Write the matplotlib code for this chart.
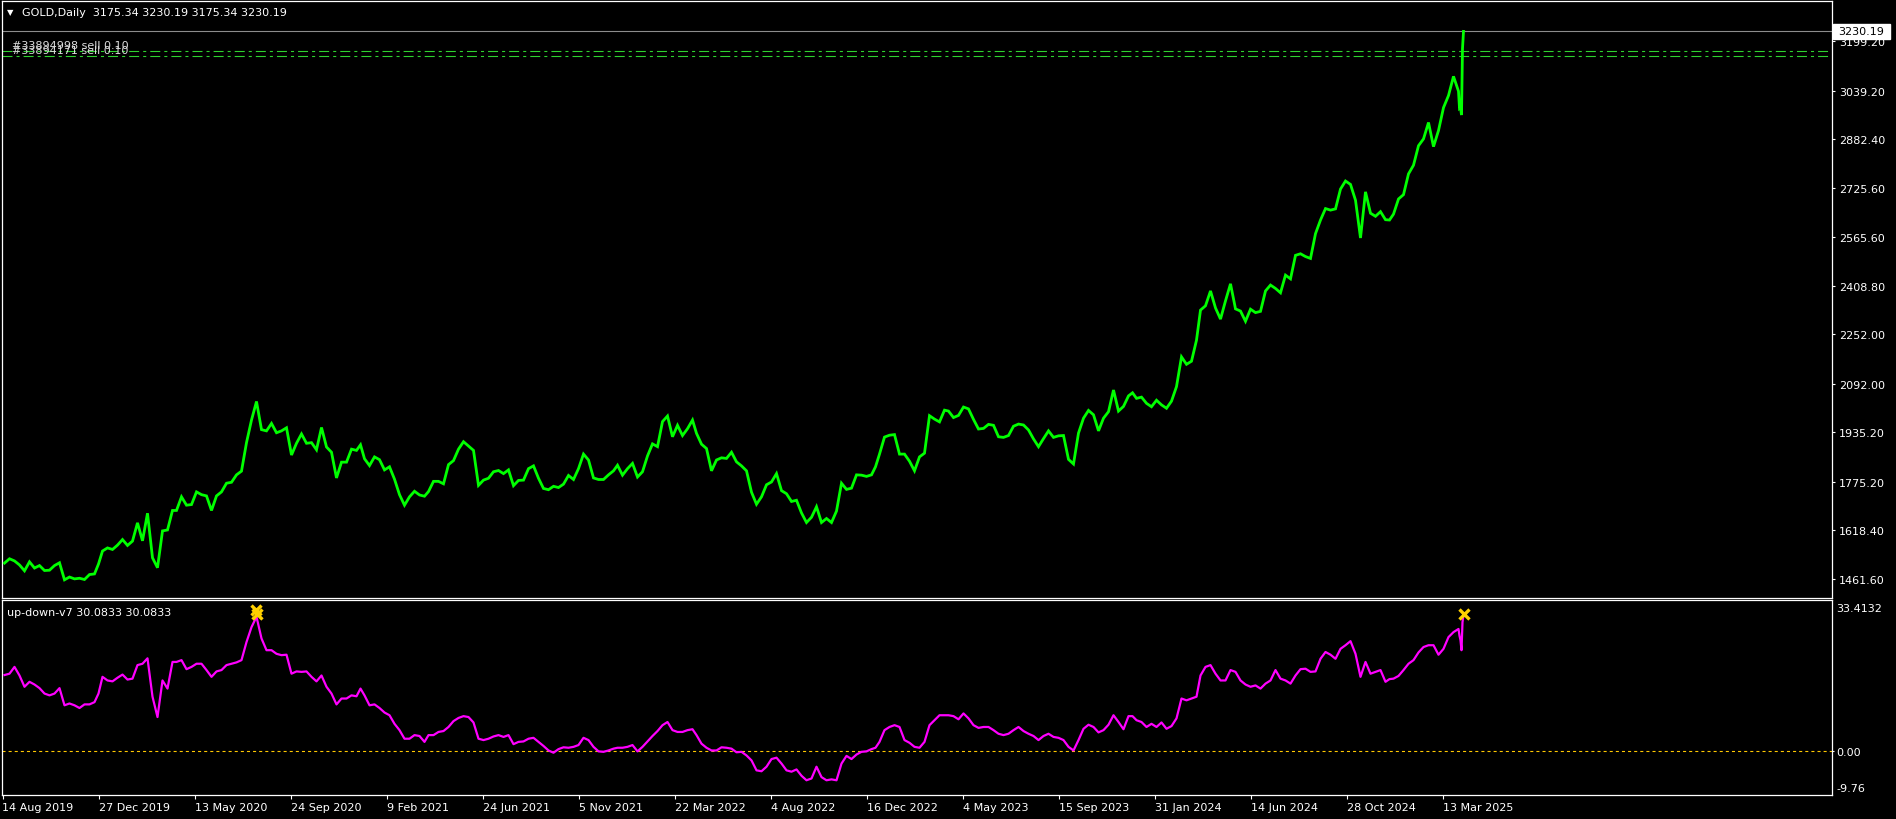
import numpy as np
import pandas as pd
import matplotlib
matplotlib.use("Agg")
import matplotlib.pyplot as plt
import matplotlib.transforms as mtransforms
from matplotlib.patches import Rectangle

plt.rcParams['font.family'] = ['DejaVu Sans']
plt.rcParams['lines.scale_dashes'] = False

# ---------------- data ----------------
START = '2019-08-14'
holidays = ['2019-12-25', '2020-01-01', '2020-04-10', '2020-12-25', '2021-01-01',
            '2021-04-02', '2021-12-24', '2022-04-15', '2022-12-26', '2023-01-02',
            '2023-04-07', '2023-12-25', '2024-01-01', '2024-03-29', '2024-12-25',
            '2025-01-01']

# weekly (Friday) closes 16 Aug 2019 .. 4 Apr 2025, then daily 7..11 Apr 2025
price_2019 = [1513, 1527, 1520, 1507, 1488, 1517, 1497, 1505, 1489, 1490, 1505, 1514, 1459, 1468,
              1462, 1464, 1460, 1476, 1478, 1510]
price_2020 = [1552, 1562, 1557, 1571, 1589, 1570, 1584, 1643, 1585, 1674, 1530, 1498, 1617, 1620,
              1683, 1683, 1727, 1700, 1702, 1743, 1734, 1730, 1683, 1730, 1743, 1771, 1774, 1798,
              1810, 1902, 1975, 2035, 1944, 1940, 1964, 1934, 1940, 1950, 1862, 1900, 1930, 1900,
              1902, 1879, 1951, 1888, 1871, 1788, 1839, 1839, 1881, 1877]
price_2021 = [1895, 1850, 1828, 1856, 1847, 1814, 1824, 1784, 1734, 1700, 1727, 1745, 1733, 1729,
              1744, 1777, 1777, 1769, 1831, 1844, 1881, 1905, 1891, 1877, 1764, 1781, 1787, 1808,
              1812, 1802, 1814, 1763, 1780, 1781, 1818, 1827, 1787, 1754, 1750, 1761, 1757, 1768,
              1796, 1783, 1818, 1865, 1846, 1788, 1783, 1783, 1798, 1811, 1829]
price_2022 = [1797, 1818, 1835, 1791, 1808, 1859, 1898, 1889, 1970, 1988, 1921, 1958, 1925, 1947,
              1975, 1932, 1897, 1883, 1811, 1846, 1853, 1851, 1871, 1840, 1827, 1811, 1742, 1703,
              1727, 1766, 1775, 1802, 1747, 1737, 1712, 1716, 1675, 1644, 1661, 1695, 1644, 1657,
              1644, 1681, 1771, 1751, 1755, 1798, 1797, 1793, 1798, 1824]
price_2023 = [1865, 1920, 1926, 1928, 1865, 1865, 1842, 1811, 1856, 1868, 1989, 1978, 1969, 2007,
              2004, 1983, 1990, 2017, 2011, 1977, 1946, 1948, 1961, 1958, 1921, 1919, 1925, 1955,
              1962, 1959, 1943, 1914, 1889, 1915, 1940, 1919, 1924, 1925, 1848, 1833, 1933, 1981,
              2006, 1992, 1940, 1981, 2002, 2072, 2004, 2019, 2053, 2063]
price_2024 = [2045, 2049, 2029, 2018, 2039, 2024, 2013, 2036, 2083, 2179, 2155, 2165, 2233, 2330,
              2344, 2392, 2337, 2301, 2360, 2415, 2334, 2327, 2294, 2333, 2322, 2326, 2392, 2411,
              2400, 2386, 2443, 2431, 2507, 2512, 2503, 2497, 2577, 2621, 2658, 2653, 2657, 2721,
              2747, 2736, 2685, 2563, 2712, 2643, 2633, 2648, 2622, 2621]
price_2025 = [2640, 2689, 2703, 2770, 2798, 2861, 2883, 2936, 2858, 2910, 2984, 3023, 3085, 3037]
price_last_days = [2982, 2985, 2960, 3175, 3230.19]

# indicator "up-down-v7" on the same dates
ind_weekly = [16.8, 17.1, 18.6, 16.7, 14.2, 15.3, 14.7, 13.9, 12.7, 12.3,
              12.7, 13.9, 10.1, 10.5, 10.1, 9.5, 10.3, 10.3, 10.8, 12.7,
              16.4, 15.6, 15.4, 16.2, 16.9, 15.8, 16.0, 19.0, 19.3, 20.5,
              12.0, 7.5, 15.6, 13.8, 19.7, 19.7, 20.1, 18.1, 18.6, 19.3,
              19.3, 17.9, 16.4, 17.6, 17.9, 19.0, 19.3, 19.6, 20.1, 24.1,
              27.4, 29.7, 24.9, 22.3, 22.3, 21.5, 21.2, 21.3, 17.1, 17.6,
              17.5, 17.6, 16.4, 15.4, 16.7, 14.2, 12.7, 10.3, 11.6, 11.6,
              12.3, 12.1, 13.8, 12.3, 10.1, 10.3, 9.5, 8.5, 7.9, 6.0,
              4.6, 2.7, 2.7, 3.5, 3.3, 2.0, 3.5, 3.5, 4.2, 4.4,
              5.3, 6.6, 7.3, 7.7, 7.5, 6.3, 2.7, 2.4, 2.7, 3.2,
              3.5, 3.1, 3.5, 1.5, 2.0, 2.1, 2.7, 2.9, 2.0, 1.1,
              0.1, -0.4, 0.4, 0.8, 0.7, 0.9, 1.3, 2.9, 2.4, 0.9,
              -0.1, -0.2, 0.1, 0.5, 0.7, 0.7, 0.9, 1.3, -0.1, 0.9,
              2.1, 3.3, 4.4, 5.7, 6.4, 4.6, 4.2, 4.2, 4.6, 4.8,
              3.5, 1.6, 0.7, 0.1, 0.1, 0.8, 0.7, 0.5, -0.3, -0.2,
              -1.0, -2.1, -4.3, -4.5, -3.5, -1.8, -1.5, -2.8, -4.3, -4.6,
              -4.1, -5.5, -6.5, -6.1, -3.5, -5.8, -6.5, -6.3, -6.5, -2.8,
              -1.1, -1.8, -0.8, -0.2, -0.1, 0.4, 0.7, 2.0, 4.6, 5.3,
              5.7, 5.3, 2.4, 1.8, 0.9, 0.7, 2.0, 5.7, 6.8, 7.9,
              7.9, 7.9, 7.7, 7.0, 8.3, 7.2, 5.7, 5.1, 5.3, 5.3,
              4.6, 3.8, 3.5, 3.8, 4.6, 5.3, 4.4, 3.8, 3.3, 2.4,
              3.3, 3.8, 3.1, 2.9, 2.4, 0.9, 0.1, 2.4, 4.9, 5.8,
              5.3, 4.1, 4.6, 5.8, 7.9, 6.4, 4.8, 7.7, 7.7, 6.8,
              6.4, 5.3, 6.0, 5.3, 6.3, 4.9, 5.5, 7.2, 11.6, 11.2,
              11.6, 12.0, 16.7, 18.6, 19.0, 17.1, 15.6, 15.6, 17.9, 17.5,
              15.6, 14.7, 14.2, 14.5, 13.8, 14.9, 15.6, 17.9, 16.0, 15.6,
              14.9, 16.7, 18.1, 18.2, 17.5, 17.6, 20.4, 21.9, 21.3, 20.4,
              22.6, 23.4, 24.3, 21.5, 16.4, 19.7, 17.1, 17.5, 17.9, 15.3,
              15.9, 16.0, 16.6, 17.9, 19.3, 20.1, 21.8, 23.0, 23.4, 23.4,
              21.3, 22.6, 25.2, 26.3, 27.0]
ind_last_days = [25.5, 24.5, 22.3, 28.5, 30.0833]

star_dates = ['2020-08-06', '2020-08-07', '2025-04-11']
star_values = [31.3, 30.3, 30.4]

order_prices = [3165.9, 3149.8]
order_labels = ['#33894998 sell 0.10', '#33894171 sell 0.10']
bid_price = 3230.19

price_ticks = [3199.20, 3039.20, 2882.40, 2725.60, 2565.60, 2408.80, 2252.00, 2092.00,
               1935.20, 1775.20, 1618.40, 1461.60]
price_ylim = (1400.24, 3328.39)
ind_ylim = (-9.76, 33.4132)

date_tick_dates = ['2019-08-14', '2019-12-27', '2020-05-13', '2020-09-24', '2021-02-09',
                   '2021-06-24', '2021-11-05', '2022-03-22', '2022-08-04', '2022-12-16',
                   '2023-05-04', '2023-09-15', '2024-01-31', '2024-06-14', '2024-10-28',
                   '2025-03-13']
date_tick_labels = ['14 Aug 2019', '27 Dec 2019', '13 May 2020', '24 Sep 2020', '9 Feb 2021',
                    '24 Jun 2021', '5 Nov 2021', '22 Mar 2022', '4 Aug 2022', '16 Dec 2022',
                    '4 May 2023', '15 Sep 2023', '31 Jan 2024', '14 Jun 2024', '28 Oct 2024',
                    '13 Mar 2025']

title_text = 'GOLD,Daily  3175.34 3230.19 3175.34 3230.19'
ind_title = 'up-down-v7 30.0833 30.0833'

# ---------------- helpers ----------------
hol = np.array(holidays, dtype='datetime64[D]')


def bar_index(dates):
    d = pd.to_datetime(pd.Index(dates)).values.astype('datetime64[D]')
    return np.busday_count(np.datetime64(START), d, holidays=hol)


weekly_dates = pd.date_range('2019-08-16', '2025-04-04', freq='W-FRI')
last_days = pd.date_range('2025-04-07', '2025-04-11', freq='B')
all_dates = weekly_dates.append(last_days)
prices = (price_2019 + price_2020 + price_2021 + price_2022 + price_2023 + price_2024
          + price_2025 + price_last_days)
ind_values = ind_weekly + ind_last_days
x_all = bar_index(all_dates)

W, H = 1896, 820
fig = plt.figure(figsize=(W / 100, H / 100), dpi=100, facecolor='black')

AX_L, AX_R = 2, 1832
ax1 = fig.add_axes([AX_L / W, 1 - 599 / H, (AX_R - AX_L) / W, (599 - 2) / H])
ax2 = fig.add_axes([AX_L / W, 1 - 796 / H, (AX_R - AX_L) / W, (796 - 601) / H])
nbars = AX_R - AX_L

for ax in (ax1, ax2):
    ax.set_facecolor('black')
    for sp in ax.spines.values():
        sp.set_color('white')
        sp.set_linewidth(0.9)
    ax.set_xlim(-0.5, nbars - 0.5)

# ---------- main panel ----------
ax1.set_ylim(*price_ylim)
ax1.axhline(bid_price, color='#8c8c8c', lw=0.8, zorder=1)
for p in order_prices:
    ax1.axhline(p, color='#2fd12f', lw=0.8, dashes=(7.2, 2.9, 2.2, 2.9), zorder=1)
ax1.plot(x_all, prices, color='#00ff00', lw=2.0, solid_joinstyle='miter', zorder=3)

blend1 = mtransforms.blended_transform_factory(ax1.transAxes, ax1.transData)
for p, lbl, dy in zip(order_prices, order_labels, [1.2, 1.2]):
    ax1.annotate(lbl, xy=(10 / nbars, p), xycoords=blend1, xytext=(0, dy),
                 textcoords='offset points', color='#dcdcdc', fontsize=8,
                 ha='left', va='bottom', zorder=4)

ax1.yaxis.tick_right()
ax1.set_yticks(price_ticks)
ax1.set_yticklabels(['%.2f' % v for v in price_ticks])
ax1.tick_params(axis='y', colors='white', length=2.5, width=0.8, pad=2.5,
                labelsize=8, direction='out')
ax1.set_xticks([])

# bid label box
hpx = (price_ylim[1] - price_ylim[0]) / 597.0
ax1.add_patch(Rectangle((1.0006, bid_price - 7.5 * hpx), 57 / nbars, 15 * hpx,
                        transform=blend1, facecolor='white', edgecolor='white',
                        clip_on=False, zorder=5))
ax1.text(1.0 + 6 / nbars, bid_price, '%.2f' % bid_price, transform=blend1,
         color='black', fontsize=8, ha='left', va='center', clip_on=False, zorder=6)

# ---------- indicator panel ----------
ax2.set_ylim(*ind_ylim)
ax2.axhline(0, color='#ffc800', lw=0.8, dashes=(2.2, 2.2), zorder=1)
ax2.plot(x_all, ind_values, color='#ff00ff', lw=1.6, zorder=3)
ax2.plot(bar_index(star_dates), star_values, linestyle='none', marker='x',
         color='#ffd000', ms=7, mew=2.4, zorder=4)

ax2.yaxis.tick_right()
ax2.set_yticks([0])
ax2.set_yticklabels(['0.00'])
ax2.tick_params(axis='y', colors='white', length=1.5, width=0.8, pad=1.5,
                labelsize=8, direction='out')
ax2.text(1.0 + 4 / nbars, 1.0 - 3 / 195, '%.4f' % ind_ylim[1], transform=ax2.transAxes,
         color='white', fontsize=8, ha='left', va='top')
ax2.text(1.0 + 4 / nbars, 2 / 195, '%.2f' % ind_ylim[0], transform=ax2.transAxes,
         color='white', fontsize=8, ha='left', va='bottom')

ax2.set_xticks(bar_index(date_tick_dates))
ax2.set_xticklabels(date_tick_labels)
ax2.tick_params(axis='x', colors='white', length=3, width=0.8, pad=2,
                labelsize=8, direction='out')
for t in ax2.get_xticklabels():
    t.set_ha('left')

# ---------- titles ----------
fig.text(7 / W, 1 - 12.5 / H, '\u25bc', color='white', fontsize=6, ha='left', va='center')
fig.text(22 / W, 1 - 12.5 / H, title_text, color='white', fontsize=8, ha='left', va='center')
fig.text(7 / W, 1 - 613 / H, ind_title, color='white', fontsize=8, ha='left', va='center')

fig.savefig('out.png', dpi=100, facecolor='black')
